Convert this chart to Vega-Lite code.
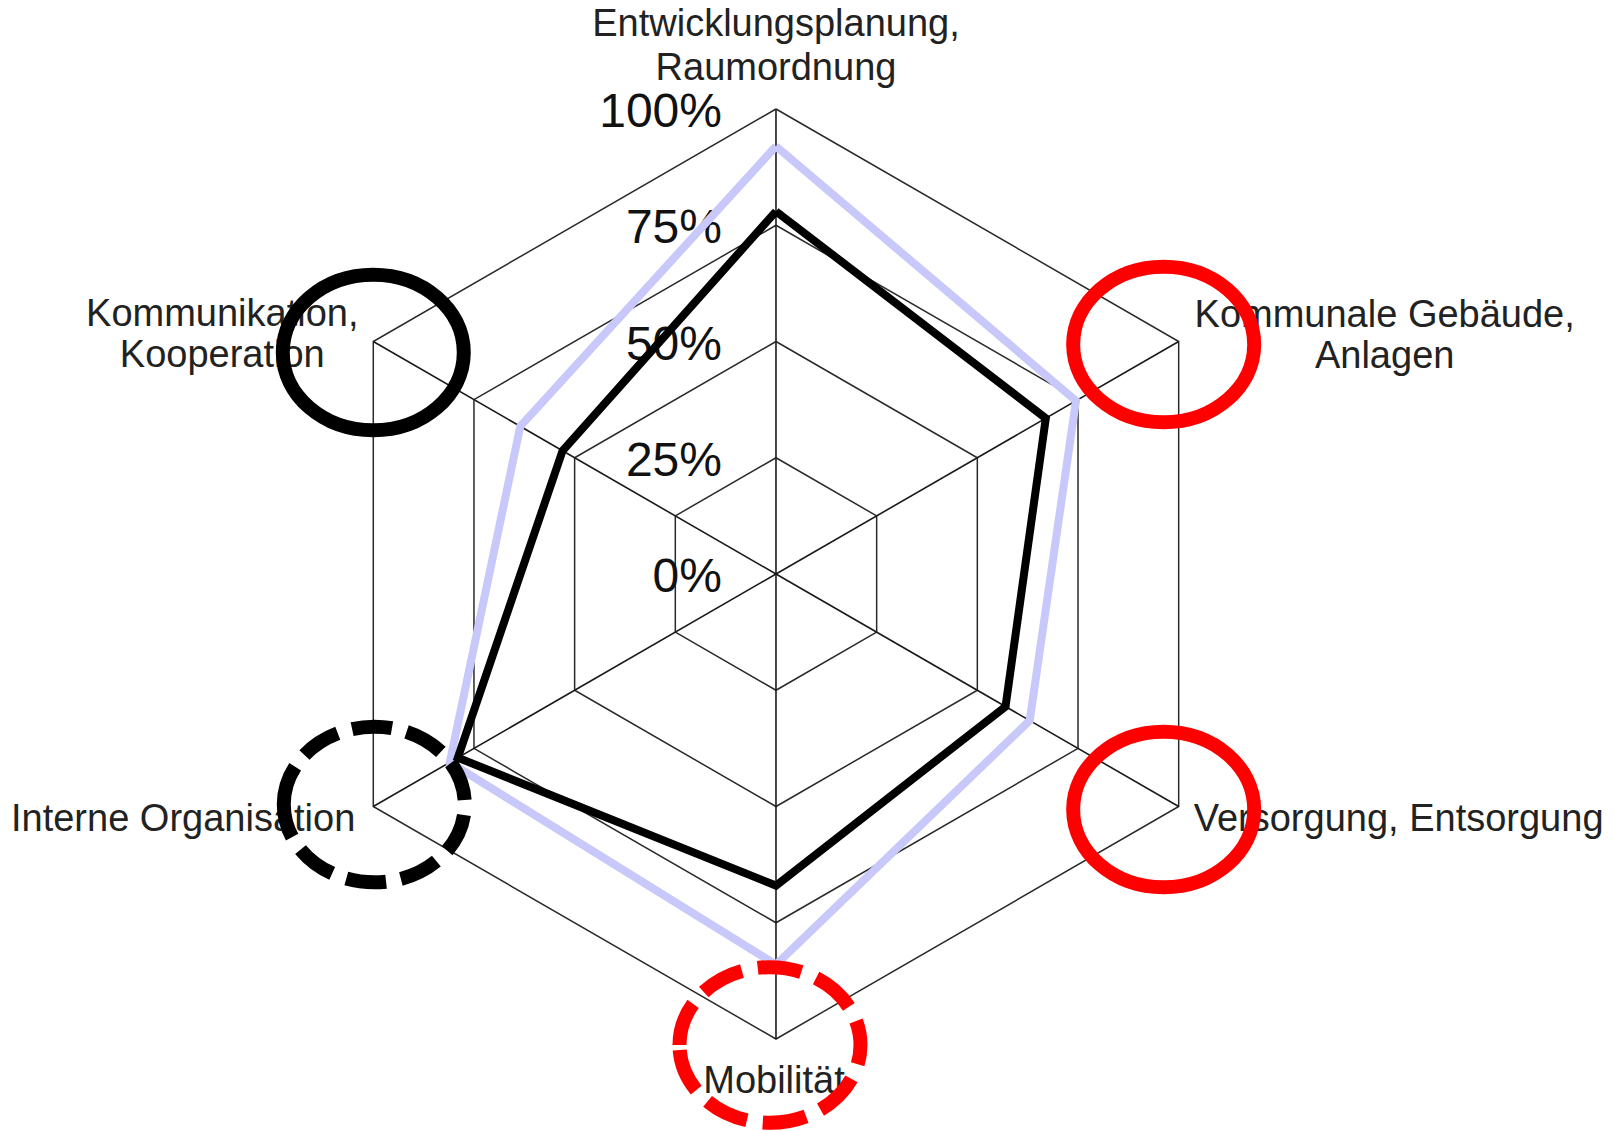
{
  "$schema": "https://vega.github.io/schema/vega-lite/v6.json",
  "width": 1614,
  "height": 1131,
  "autosize": {"type": "none"},
  "padding": 0,
  "background": "white",
  "config": {"view": {"stroke": null}},
  "datasets": {
    "gitter": [
      {"level": 25, "k": [0, 1, 2, 3, 4, 5, 6]},
      {"level": 50, "k": [0, 1, 2, 3, 4, 5, 6]},
      {"level": 75, "k": [0, 1, 2, 3, 4, 5, 6]},
      {"level": 100, "k": [0, 1, 2, 3, 4, 5, 6]}
    ],
    "achsen": [
      {"k": 0, "axis": "Entwicklungsplanung,\nRaumordnung"},
      {"k": 1, "axis": "Kommunale Gebäude,\nAnlagen"},
      {"k": 2, "axis": "Versorgung, Entsorgung"},
      {"k": 3, "axis": "Mobilität"},
      {"k": 4, "axis": "Interne Organisation"},
      {"k": 5, "axis": "Kommunikation,\nKooperation"}
    ],
    "prozent": [
      {"label": "0%", "level": 0},
      {"label": "25%", "level": 25},
      {"label": "50%", "level": 50},
      {"label": "75%", "level": 75},
      {"label": "100%", "level": 100}
    ],
    "werte": [
      {"series": "Serie 1", "k": 0, "axis": "Entwicklungsplanung, Raumordnung", "value": 92},
      {"series": "Serie 1", "k": 1, "axis": "Kommunale Gebäude, Anlagen", "value": 74.5},
      {"series": "Serie 1", "k": 2, "axis": "Versorgung, Entsorgung", "value": 63},
      {"series": "Serie 1", "k": 3, "axis": "Mobilität", "value": 84},
      {"series": "Serie 1", "k": 4, "axis": "Interne Organisation", "value": 81},
      {"series": "Serie 1", "k": 5, "axis": "Kommunikation, Kooperation", "value": 63.5},
      {"series": "Serie 1", "k": 6, "axis": "Entwicklungsplanung, Raumordnung", "value": 92},
      {"series": "Serie 2", "k": 0, "axis": "Entwicklungsplanung, Raumordnung", "value": 78},
      {"series": "Serie 2", "k": 1, "axis": "Kommunale Gebäude, Anlagen", "value": 67},
      {"series": "Serie 2", "k": 2, "axis": "Versorgung, Entsorgung", "value": 57},
      {"series": "Serie 2", "k": 3, "axis": "Mobilität", "value": 67},
      {"series": "Serie 2", "k": 4, "axis": "Interne Organisation", "value": 79},
      {"series": "Serie 2", "k": 5, "axis": "Kommunikation, Kooperation", "value": 53},
      {"series": "Serie 2", "k": 6, "axis": "Entwicklungsplanung, Raumordnung", "value": 78}
    ],
    "markierungen": [
      {"k": 1, "axis": "Kommunale Gebäude, Anlagen", "typ": "rot"},
      {"k": 2, "axis": "Versorgung, Entsorgung", "typ": "rot"},
      {"k": 3, "axis": "Mobilität", "typ": "rot gestrichelt"},
      {"k": 4, "axis": "Interne Organisation", "typ": "schwarz gestrichelt"},
      {"k": 5, "axis": "Kommunikation, Kooperation", "typ": "schwarz"}
    ]
  },
  "encoding": {
    "x": {"field": "x", "type": "quantitative", "scale": {"domain": [-166.88, 180.22], "nice": false, "zero": false}, "axis": null},
    "y": {"field": "y", "type": "quantitative", "scale": {"domain": [-119.78, 123.44], "nice": false, "zero": false}, "axis": null}
  },
  "layer": [
    {
      "data": {"name": "gitter"},
      "transform": [
        {"flatten": ["k"]},
        {"calculate": "datum.level * sin(datum.k * PI / 3)", "as": "x"},
        {"calculate": "datum.level * cos(datum.k * PI / 3)", "as": "y"}
      ],
      "mark": {"type": "line", "stroke": "#2a2a2a", "strokeWidth": 1.5},
      "encoding": {
        "detail": {"field": "level", "type": "nominal"},
        "order": {"field": "k", "type": "quantitative"}
      }
    },
    {
      "data": {"name": "achsen"},
      "transform": [
        {"calculate": "100 * sin(datum.k * PI / 3)", "as": "x"},
        {"calculate": "100 * cos(datum.k * PI / 3)", "as": "y"}
      ],
      "mark": {"type": "rule", "stroke": "#1a1a1a", "strokeWidth": 1.6},
      "encoding": {
        "x2": {"datum": 0},
        "y2": {"datum": 0}
      }
    },
    {
      "data": {"name": "prozent"},
      "transform": [
        {"calculate": "0", "as": "x"},
        {"calculate": "datum.level", "as": "y"}
      ],
      "mark": {"type": "text", "align": "right", "baseline": "alphabetic", "dx": -54, "dy": 18, "font": "Liberation Sans", "fontSize": 48, "fill": "#111111"},
      "encoding": {
        "text": {"field": "label"}
      }
    },
    {
      "data": {"name": "werte"},
      "transform": [
        {"filter": "datum.series === 'Serie 1'"},
        {"calculate": "datum.value * sin(datum.k * PI / 3)", "as": "x"},
        {"calculate": "datum.value * cos(datum.k * PI / 3)", "as": "y"}
      ],
      "mark": {"type": "line", "stroke": "#c8c8fa", "strokeWidth": 8, "strokeJoin": "miter"},
      "encoding": {"order": {"field": "k", "type": "quantitative"}}
    },
    {
      "data": {"name": "werte"},
      "transform": [
        {"filter": "datum.series === 'Serie 2'"},
        {"calculate": "datum.value * sin(datum.k * PI / 3)", "as": "x"},
        {"calculate": "datum.value * cos(datum.k * PI / 3)", "as": "y"}
      ],
      "mark": {"type": "line", "stroke": "#000000", "strokeWidth": 8, "strokeJoin": "miter"},
      "encoding": {"order": {"field": "k", "type": "quantitative"}}
    },
    {
      "data": {"name": "achsen"},
      "transform": [
        {"filter": "datum.k === 0"},
        {"calculate": "100 * sin(datum.k * PI / 3)", "as": "x"},
        {"calculate": "100 * cos(datum.k * PI / 3)", "as": "y"}
      ],
      "mark": {"type": "text", "align": "center", "baseline": "top", "dx": 0, "dy": -103, "lineBreak": "\n", "lineHeight": 44, "font": "Liberation Sans", "fontSize": 38, "fill": "#222222"},
      "encoding": {"text": {"field": "axis"}}
    },
    {
      "data": {"name": "achsen"},
      "transform": [
        {"filter": "datum.k === 1"},
        {"calculate": "100 * sin(datum.k * PI / 3)", "as": "x"},
        {"calculate": "100 * cos(datum.k * PI / 3)", "as": "y"}
      ],
      "mark": {"type": "text", "align": "center", "baseline": "top", "dx": 206, "dy": -45, "lineBreak": "\n", "lineHeight": 41, "font": "Liberation Sans", "fontSize": 38, "fill": "#222222"},
      "encoding": {"text": {"field": "axis"}}
    },
    {
      "data": {"name": "achsen"},
      "transform": [
        {"filter": "datum.k === 2"},
        {"calculate": "100 * sin(datum.k * PI / 3)", "as": "x"},
        {"calculate": "100 * cos(datum.k * PI / 3)", "as": "y"}
      ],
      "mark": {"type": "text", "align": "left", "baseline": "alphabetic", "dx": 15, "dy": 24, "font": "Liberation Sans", "fontSize": 38, "fill": "#222222"},
      "encoding": {"text": {"field": "axis"}}
    },
    {
      "data": {"name": "achsen"},
      "transform": [
        {"filter": "datum.k === 3"},
        {"calculate": "100 * sin(datum.k * PI / 3)", "as": "x"},
        {"calculate": "100 * cos(datum.k * PI / 3)", "as": "y"}
      ],
      "mark": {"type": "text", "align": "center", "baseline": "alphabetic", "dx": -2, "dy": 54, "font": "Liberation Sans", "fontSize": 38, "fill": "#222222"},
      "encoding": {"text": {"field": "axis"}}
    },
    {
      "data": {"name": "achsen"},
      "transform": [
        {"filter": "datum.k === 4"},
        {"calculate": "100 * sin(datum.k * PI / 3)", "as": "x"},
        {"calculate": "100 * cos(datum.k * PI / 3)", "as": "y"}
      ],
      "mark": {"type": "text", "align": "right", "baseline": "alphabetic", "dx": -18, "dy": 24, "font": "Liberation Sans", "fontSize": 38, "fill": "#222222"},
      "encoding": {"text": {"field": "axis"}}
    },
    {
      "data": {"name": "achsen"},
      "transform": [
        {"filter": "datum.k === 5"},
        {"calculate": "100 * sin(datum.k * PI / 3)", "as": "x"},
        {"calculate": "100 * cos(datum.k * PI / 3)", "as": "y"}
      ],
      "mark": {"type": "text", "align": "center", "baseline": "top", "dx": -151, "dy": -46, "lineBreak": "\n", "lineHeight": 41, "font": "Liberation Sans", "fontSize": 38, "fill": "#222222"},
      "encoding": {"text": {"field": "axis"}}
    },
    {
      "data": {"name": "markierungen"},
      "transform": [
        {"filter": "datum.typ === 'rot'"},
        {"calculate": "100 * sin(datum.k * PI / 3)", "as": "x"},
        {"calculate": "100 * cos(datum.k * PI / 3)", "as": "y"}
      ],
      "mark": {"type": "point", "shape": "M -1 0 C -1 -0.475 -0.552 -0.86 0 -0.86 C 0.552 -0.86 1 -0.475 1 0 C 1 0.475 0.552 0.86 0 0.86 C -0.552 0.86 -1 0.475 -1 0 Z", "size": 32761, "filled": false, "stroke": "#ff0000", "strokeWidth": 14, "opacity": 1, "xOffset": -15, "yOffset": 3}
    },
    {
      "data": {"name": "markierungen"},
      "transform": [
        {"filter": "datum.typ === 'rot gestrichelt'"},
        {"calculate": "100 * sin(datum.k * PI / 3)", "as": "x"},
        {"calculate": "100 * cos(datum.k * PI / 3)", "as": "y"}
      ],
      "mark": {"type": "point", "shape": "M -1 0 C -1 -0.475 -0.552 -0.86 0 -0.86 C 0.552 -0.86 1 -0.475 1 0 C 1 0.475 0.552 0.86 0 0.86 C -0.552 0.86 -1 0.475 -1 0 Z", "size": 32761, "filled": false, "stroke": "#ff0000", "strokeWidth": 14, "strokeDash": [44, 16], "opacity": 1, "xOffset": -6, "yOffset": 6}
    },
    {
      "data": {"name": "markierungen"},
      "transform": [
        {"filter": "datum.typ === 'schwarz gestrichelt'"},
        {"calculate": "100 * sin(datum.k * PI / 3)", "as": "x"},
        {"calculate": "100 * cos(datum.k * PI / 3)", "as": "y"}
      ],
      "mark": {"type": "point", "shape": "M -1 0 C -1 -0.475 -0.552 -0.86 0 -0.86 C 0.552 -0.86 1 -0.475 1 0 C 1 0.475 0.552 0.86 0 0.86 C -0.552 0.86 -1 0.475 -1 0 Z", "size": 32761, "filled": false, "stroke": "#000000", "strokeWidth": 14, "strokeDash": [40, 15], "opacity": 1, "xOffset": 1, "yOffset": -2}
    },
    {
      "data": {"name": "markierungen"},
      "transform": [
        {"filter": "datum.typ === 'schwarz'"},
        {"calculate": "100 * sin(datum.k * PI / 3)", "as": "x"},
        {"calculate": "100 * cos(datum.k * PI / 3)", "as": "y"}
      ],
      "mark": {"type": "point", "shape": "M -1 0 C -1 -0.475 -0.552 -0.86 0 -0.86 C 0.552 -0.86 1 -0.475 1 0 C 1 0.475 0.552 0.86 0 0.86 C -0.552 0.86 -1 0.475 -1 0 Z", "size": 32761, "filled": false, "stroke": "#000000", "strokeWidth": 14, "opacity": 1, "xOffset": 0, "yOffset": 11}
    }
  ]
}
